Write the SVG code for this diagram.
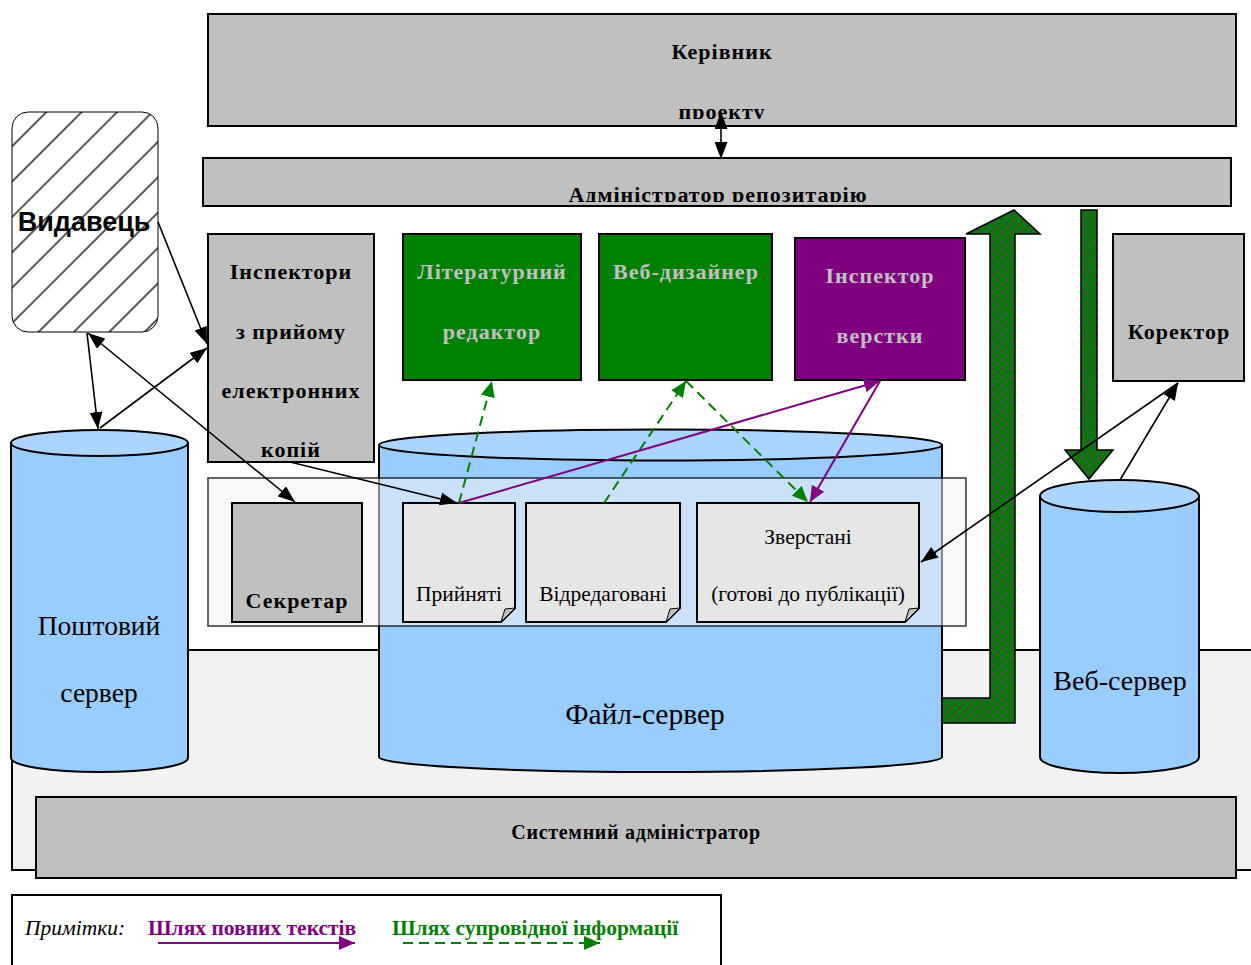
<svg xmlns="http://www.w3.org/2000/svg" width="1251" height="965" viewBox="0 0 1251 965">
<defs>
<style>
.box{stroke:#000;stroke-width:2}
.gray{fill:#c0c0c0}
.t{font-family:"Liberation Serif","Times New Roman",serif;font-weight:bold;font-size:22px;letter-spacing:1px;text-anchor:middle;fill:#000}
.lt{fill:#c0c0c0}
.r{font-family:"Liberation Serif","Times New Roman",serif;font-size:21.5px;text-anchor:middle;fill:#000}
.big{font-size:28px}
.leg{font-family:"Liberation Serif","Times New Roman",serif;font-size:21.5px}
.cyl{fill:#99ccff;stroke:#000;stroke-width:2}
.cyltop{fill:#abd5ff;stroke:#000;stroke-width:2}
.doc{fill:#e6e6e6;stroke:#000;stroke-width:2}
.fold{fill:#c0c0c0;stroke:#000;stroke-width:1}
.c{fill:none;stroke:#000;stroke-width:1.6}
.g{fill:none;stroke:#008000;stroke-width:2;stroke-dasharray:10 6}
.p{fill:none;stroke:#800080;stroke-width:2}
</style>
<marker id="ab" markerUnits="userSpaceOnUse" markerWidth="17" markerHeight="13" refX="17" refY="6.5" orient="auto-start-reverse"><path d="M0,0 L17,6.5 L0,13 z" fill="#000"/></marker>
<marker id="ag" markerUnits="userSpaceOnUse" markerWidth="16" markerHeight="14" refX="16" refY="7" orient="auto"><path d="M0,0 L16,7 L0,14 z" fill="#008000"/></marker>
<marker id="ap" markerUnits="userSpaceOnUse" markerWidth="16" markerHeight="14" refX="16" refY="7" orient="auto"><path d="M0,0 L16,7 L0,14 z" fill="#800080"/></marker>
<pattern id="hatch" patternUnits="userSpaceOnUse" width="25" height="25" patternTransform="rotate(45)"><rect width="25" height="25" fill="#fff"/><line x1="12" y1="0" x2="12" y2="25" stroke="#000" stroke-width="1.3"/></pattern>
<pattern id="gh" patternUnits="userSpaceOnUse" width="6" height="6" patternTransform="rotate(45)"><rect width="6" height="6" fill="#007a00"/><line x1="3" y1="0" x2="3" y2="6" stroke="#7a357a" stroke-width="1.3" stroke-dasharray="4.5 1.5"/></pattern>
<clipPath id="clipK"><rect x="208" y="14" width="1028" height="105"/></clipPath>
<clipPath id="clipA"><rect x="203" y="158" width="1028" height="44"/></clipPath>
</defs>

<!-- background zone -->
<rect x="12" y="650" width="1260" height="220" fill="#f2f2f2" stroke="#000" stroke-width="2"/>

<g id="sysadmin">
<rect x="36" y="797" width="1200" height="81" class="box gray"/>
<text x="636" y="839" class="t" style="font-size:20px;letter-spacing:0.7px">Системний адміністратор</text>
</g>

<g id="legend">
<rect x="12" y="895" width="709" height="90" fill="#fff" stroke="#000" stroke-width="2"/>
<text x="25" y="935" class="leg" style="font-style:italic">Примітки:</text>
<text x="148" y="935" class="leg" style="font-weight:bold;fill:#800080">Шлях повних текстів</text>
<line x1="158" y1="943" x2="355" y2="943" class="p" marker-end="url(#ap)"/>
<text x="392" y="935" class="leg" style="font-weight:bold;fill:#008000">Шлях супровідної інформації</text>
<line x1="403" y1="943" x2="600" y2="943" class="g" marker-end="url(#ag)"/>
</g>

<g id="kerivnyk">
<rect x="208" y="14" width="1028" height="112" class="box gray"/>
<g clip-path="url(#clipK)">
<text x="722" y="59" class="t">Керівник</text>
<text x="722" y="119" class="t">проекту</text>
</g>
</g>

<g id="admin-repo">
<rect x="203" y="158" width="1028" height="48" class="box gray"/>
<g clip-path="url(#clipA)">
<text x="718" y="202" class="t">Адміністратор репозитарію</text>
</g>
</g>

<g id="vydavets">
<rect x="12" y="112" width="146" height="220" rx="16" fill="url(#hatch)" stroke="#000" stroke-width="1"/>
<text x="84" y="231" style="font-family:'Liberation Sans',Arial,sans-serif;font-weight:bold;font-size:27px;text-anchor:middle">Видавець</text>
</g>

<g id="inspektory">
<rect x="208" y="234" width="166" height="228" class="box gray"/>
<text x="291" y="279" class="t">Інспектори</text>
<text x="291" y="339" class="t">з прийому</text>
<text x="291" y="398" class="t">електронних</text>
<text x="291" y="457" class="t">копій</text>
</g>

<g id="lit-redaktor">
<rect x="403" y="234" width="178" height="146" class="box" fill="#008000"/>
<text x="492" y="279" class="t lt">Літературний</text>
<text x="492" y="339" class="t lt">редактор</text>
</g>

<g id="veb-dyzainer">
<rect x="599" y="234" width="173" height="146" class="box" fill="#008000"/>
<text x="686" y="279" class="t lt">Веб-дизайнер</text>
</g>

<g id="inspektor-verstky">
<rect x="795" y="238" width="170" height="142" class="box" fill="#800080"/>
<text x="880" y="283" class="t lt">Інспектор</text>
<text x="880" y="343" class="t lt">верстки</text>
</g>

<g id="korektor">
<rect x="1113" y="234" width="131" height="147" class="box gray"/>
<text x="1179" y="339" class="t">Коректор</text>
</g>

<g id="poshtovyi-server">
<path d="M11,443 V758 A88.5,14 0 0 0 188,758 V443" class="cyl"/>
<ellipse cx="99.5" cy="443" rx="88.5" ry="13" class="cyltop"/>
<text x="99" y="635" class="r big" style="font-size:27.5px">Поштовий</text>
<text x="99" y="702" class="r big" style="font-size:27.5px">сервер</text>
</g>

<g id="fail-server">
<path d="M379,445 V757 A281.5,15 0 0 0 942,757 V445" class="cyl"/>
<ellipse cx="660.5" cy="445" rx="281.5" ry="15.5" class="cyltop"/>
<text x="645" y="724" class="r big" style="font-size:29.5px">Файл-сервер</text>
</g>

<g id="veb-server">
<path d="M1040,496 V757 A79.5,16 0 0 0 1199,757 V496" class="cyl"/>
<ellipse cx="1119.5" cy="496" rx="79.5" ry="16" class="cyltop"/>
<text x="1120" y="690" class="r big">Веб-сервер</text>
</g>

<g id="panel">
<rect x="208" y="478" width="758" height="148" fill="#f2f2f2" fill-opacity="0.55" stroke="#000" stroke-opacity="0.8" stroke-width="1.5"/>
</g>

<g id="sekretar">
<rect x="232" y="503" width="130" height="119" class="box gray"/>
<text x="297" y="608" class="t">Секретар</text>
</g>

<g id="pryiniati">
<path d="M403,503 H515 V608 L501,622 H403 Z" class="doc"/>
<path d="M501,622 L505,609 L515,608 Z" class="fold"/>
<text x="459" y="601" class="r">Прийняті</text>
</g>

<g id="vidredagovani">
<path d="M526,503 H680 V608 L666,622 H526 Z" class="doc"/>
<path d="M666,622 L670,609 L680,608 Z" class="fold"/>
<text x="603" y="601" class="r">Відредаговані</text>
</g>

<g id="zverstani">
<path d="M697,503 H919 V608 L905,622 H697 Z" class="doc"/>
<path d="M905,622 L909,609 L919,608 Z" class="fold"/>
<text x="808" y="544" class="r">Зверстані</text>
<text x="808" y="601" class="r">(готові до публікації)</text>
</g>

<g id="big-arrows">
<path d="M942,698 H990 V234 H966 L1014,210 L1040,234 H1015 V723 H942 Z" fill="url(#gh)" stroke="#000" stroke-width="1.5"/>
<path d="M1081,210 H1097 V450 H1113 L1089,479 L1065,450 H1081 Z" fill="url(#gh)" stroke="#000" stroke-width="1.5"/>
</g>

<g id="connectors">
<line x1="721" y1="112" x2="721" y2="159" class="c" marker-start="url(#ab)" marker-end="url(#ab)"/>
<line x1="158" y1="222" x2="207" y2="344" class="c" marker-end="url(#ab)"/>
<line x1="87" y1="333" x2="98" y2="429" class="c" marker-end="url(#ab)"/>
<line x1="100" y1="428" x2="207" y2="348" class="c" marker-end="url(#ab)"/>
<line x1="88" y1="333" x2="295" y2="502" class="c" marker-start="url(#ab)" marker-end="url(#ab)"/>
<line x1="290" y1="462" x2="457" y2="503" class="c" marker-end="url(#ab)"/>
<line x1="459" y1="503" x2="492" y2="381" class="g" marker-end="url(#ag)"/>
<line x1="604" y1="503" x2="686" y2="381" class="g" marker-end="url(#ag)"/>
<line x1="686" y1="381" x2="808" y2="502" class="g" marker-end="url(#ag)"/>
<line x1="459" y1="503" x2="880" y2="381" class="p" marker-end="url(#ap)"/>
<line x1="880" y1="381" x2="810" y2="502" class="p" marker-end="url(#ap)"/>
<line x1="1178" y1="383" x2="921" y2="562" class="c" marker-end="url(#ab)"/>
<line x1="1120" y1="480" x2="1178" y2="383" class="c" marker-end="url(#ab)"/>
</g>
</svg>
